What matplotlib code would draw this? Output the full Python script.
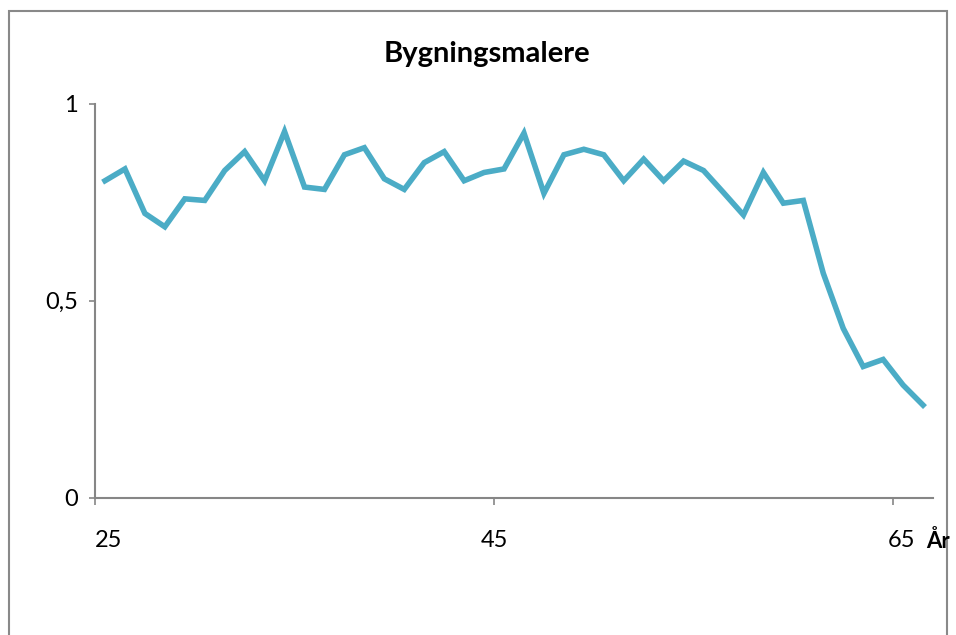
import matplotlib
matplotlib.use("Agg")
import matplotlib.pyplot as plt
from matplotlib.patches import Rectangle

plt.rcParams['font.family'] = ['Lato', 'DejaVu Sans']

years = list(range(25, 67))
values = [0.805, 0.835, 0.722, 0.688, 0.759, 0.755, 0.831, 0.879, 0.805, 0.930,
          0.789, 0.783, 0.871, 0.889, 0.810, 0.783, 0.851, 0.879, 0.805, 0.826,
          0.835, 0.926, 0.773, 0.871, 0.885, 0.871, 0.805, 0.860, 0.805, 0.855,
          0.831, 0.775, 0.718, 0.826, 0.748, 0.755, 0.570, 0.430, 0.333, 0.351,
          0.286, 0.235]
xtick_labels = ["25", "45", "65"]
ytick_values = [0, 0.5, 1]
ytick_labels = ["0", "0,5", "1"]
title = "Bygningsmalere"
xlabel = "År"

W, H = 956, 635
fig = plt.figure(figsize=(W / 100, H / 100), dpi=100)
fig.patches.append(Rectangle((9 / W, -0.1), (947 - 9) / W, 1.1 - 11 / H,
                             transform=fig.transFigure, fill=False,
                             edgecolor='#898989', linewidth=1.5, zorder=-1))

ax = fig.add_axes([95 / W, 1 - 497.6 / H, (933 - 95) / W, (497.6 - 104) / H])
ax.patch.set_alpha(0)
ax.plot(years, values, color='#4BACC6', linewidth=4.0, solid_joinstyle='miter')

ax.set_xlim(years[0] - 0.5, years[-1] + 0.5)
ax.set_ylim(0, 1)
for s in ['top', 'right']:
    ax.spines[s].set_visible(False)
for s in ['left', 'bottom']:
    ax.spines[s].set_color('#868686')
    ax.spines[s].set_linewidth(1.5)

tick_pos = [int(t) - 0.5 for t in xtick_labels]
ax.set_xticks(tick_pos)
ax.set_xticklabels([])
ax.tick_params(axis='x', direction='out', length=5, width=1.2, color='#868686')
label_offsets = [0.7, 0.0, 0.4]
for t, p, o in zip(xtick_labels, tick_pos, label_offsets):
    ax.text(p + o, -0.11, t, ha='center', va='center', fontsize=17,
            transform=ax.get_xaxis_transform())
ax.text(66.75, -0.11, xlabel, ha='center', va='center', fontsize=16,
        fontweight='bold', transform=ax.get_xaxis_transform(), zorder=10)

ax.set_yticks(ytick_values)
ax.set_yticklabels(ytick_labels, fontsize=17)
ax.tick_params(axis='y', direction='out', length=4.5, width=1.2, color='#868686', pad=8)

fig.text(487 / W, 1 - 54 / H, title, ha='center', va='center', fontsize=21,
         fontweight='bold')

fig.savefig('out.png', dpi=100)
